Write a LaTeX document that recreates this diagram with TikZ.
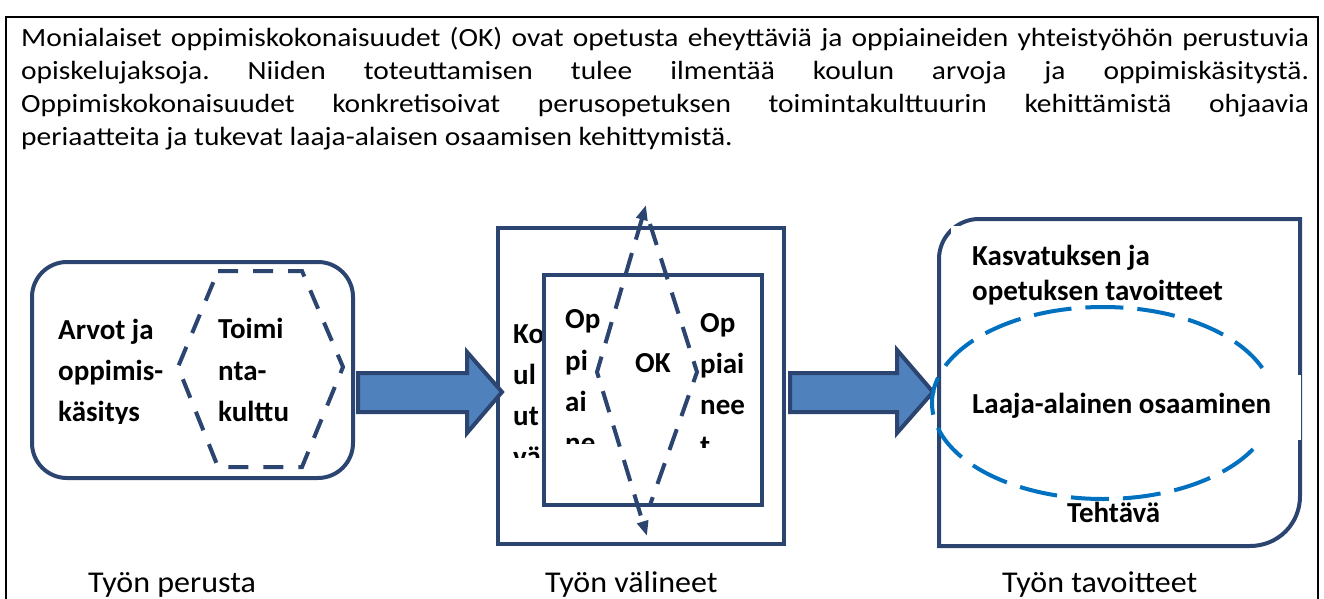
\documentclass[tikz,border=0pt]{standalone}
\usepackage{fontspec}
\setmainfont{Carlito}
\newfontfamily\bodyfont[FakeStretch=1.12]{Carlito}
\newfontfamily\capfont[FakeStretch=1.06]{Carlito}
\usetikzlibrary{arrows.meta}
\definecolor{navy}{HTML}{2B4570}
\definecolor{afill}{HTML}{4F81BD}
\definecolor{eblue}{HTML}{0070C0}
\frenchspacing
\tikzset{
  body/.style={font=\bodyfont\fontsize{26.3}{33}\selectfont\frenchspacing, anchor=base west, inner sep=0pt},
  lbl/.style={font=\bfseries\fontsize{29}{34}\selectfont, anchor=base west, inner sep=0pt},
  captxt/.style={font=\capfont\fontsize{30.2}{34}\selectfont, anchor=base west, inner sep=0pt},
  shapeline/.style={draw=navy, line width=4pt},
  navydash/.style={draw=navy, line width=4pt, dash pattern=on 20pt off 15pt},
  blockarrow/.style={draw=navy, line width=4pt, fill=afill, line join=miter},
}
\begin{document}
\begin{tikzpicture}[x=1pt,y=-1pt]
\useasboundingbox (0,0) rectangle (1324,599);
\draw[line width=2.5pt] (6,602) -- (6,17) -- (1318,17) -- (1318,602);

\node[body] (t1) at (21,47) {\makebox[1288pt][s]{Monialaiset oppimiskokonaisuudet (OK) ovat opetusta eheyttäviä ja oppiaineiden yhteistyöhön perustuvia}};
\node[body] (t2) at (21,80) {\makebox[1288pt][s]{opiskelujaksoja. Niiden toteuttamisen tulee ilmentää koulun arvoja ja oppimiskäsitystä.}};
\node[body] (t3) at (21,113) {\makebox[1288pt][s]{Oppimiskokonaisuudet konkretisoivat perusopetuksen toimintakulttuurin kehittämistä ohjaavia}};
\node[body] (t4) at (21,146) {periaatteita ja tukevat laaja-alaisen osaamisen kehittymistä.};

% left box
\draw[shapeline, rounded corners=35pt] (32,262) rectangle (353,478);
\draw[navydash] (218,271) -- (302,271) -- (343,367) -- (302,467) -- (218,467) -- (178,367) -- cycle;
\begin{scope}
\clip (50,300) rectangle (175,423);
\node[lbl] (a1) at (58,339) {Arvot ja};
\node[lbl] (a2) at (58,380) {oppimis-};
\node[lbl] (a3) at (58,421) {käsitys};
\end{scope}
\node[lbl] (b1) at (218,338) {Toimi};
\node[lbl] (b2) at (218,380) {nta-};
\node[lbl] (b3) at (218,421) {kulttu};

% middle
\draw[shapeline, fill=white] (498,228) rectangle (784,544);
\begin{scope}
\clip (505,300) rectangle (560,457);
\node[lbl] (k1) at (513,343) {Ko};
\node[lbl] (k2) at (513,384) {ul};
\node[lbl] (k3) at (513,425) {ut};
\node[lbl] (k4) at (513,466) {vä};
\end{scope}
\draw[shapeline, fill=white] (544,275) rectangle (762,505);
\begin{scope}
\clip (555,290) rectangle (640,443);
\node[lbl] (o1) at (565,328) {Op};
\node[lbl] (o2) at (565,370) {pi};
\node[lbl] (o3) at (565,411) {ai};
\node[lbl] (o4) at (565,452) {ne};
\end{scope}
\node[lbl] (ok) at (635,372) {OK};
\begin{scope}
\clip (695,290) rectangle (760,447);
\node[lbl] (p1) at (700,332) {Op};
\node[lbl] (p2) at (700,373) {piai};
\node[lbl] (p3) at (700,414) {nee};
\node[lbl] (p4) at (700,455) {t};
\end{scope}
\coordinate (dtop) at (646,205);
\coordinate (dl) at (597,372);
\coordinate (dbot) at (647,536);
\coordinate (rtop) at (650,224);
\coordinate (dr) at (697,372);
\coordinate (rbot) at (650,505);
\draw[draw=navy, line width=4pt, dash pattern=on 22pt off 14pt, {Triangle[width=11pt,length=15pt]}-{Triangle[width=11pt,length=15pt]}] (dtop) -- (dl) -- (dbot);
\draw[draw=navy, line width=4pt, dash pattern=on 22pt off 14pt] (rtop) -- (dr) -- (rbot);

% arrows
\draw[blockarrow] (358,373) -- (467,373) -- (467,352) -- (502,392) -- (467,433) -- (467,412) -- (358,412) -- cycle;
\draw[blockarrow] (790,373) -- (897,373) -- (897,350) -- (933,392) -- (897,433) -- (897,412) -- (790,412) -- cycle;

% right box
\draw[shapeline] (939,546) -- (939,259) .. controls (939,237) and (957,219) .. (979,219) -- (1300,219) -- (1300,496) .. controls (1300,524) and (1278,546) .. (1250,546) -- cycle;
\fill[white] (951,226) rectangle (1296,304);
\draw[draw=eblue, line width=4pt, dash pattern=on 38pt off 14pt] (1103,403) ellipse [x radius=171, y radius=96];
\fill[white] (950,375) rectangle (1301,440);
\node[lbl] (g1) at (972,265) {Kasvatuksen ja};
\node[lbl] (g2) at (972,300) {opetuksen tavoitteet};
\node[lbl] (la) at (972,413) {Laaja-alainen osaaminen};
\node[lbl] (te) at (1067,522) {Tehtävä};

% captions
\node[captxt] (c1) at (88,592) {Työn perusta};
\node[captxt] (c2) at (545,592) {Työn välineet};
\node[captxt] (c3) at (1002,592) {Työn tavoitteet};
\end{tikzpicture}
\end{document}
